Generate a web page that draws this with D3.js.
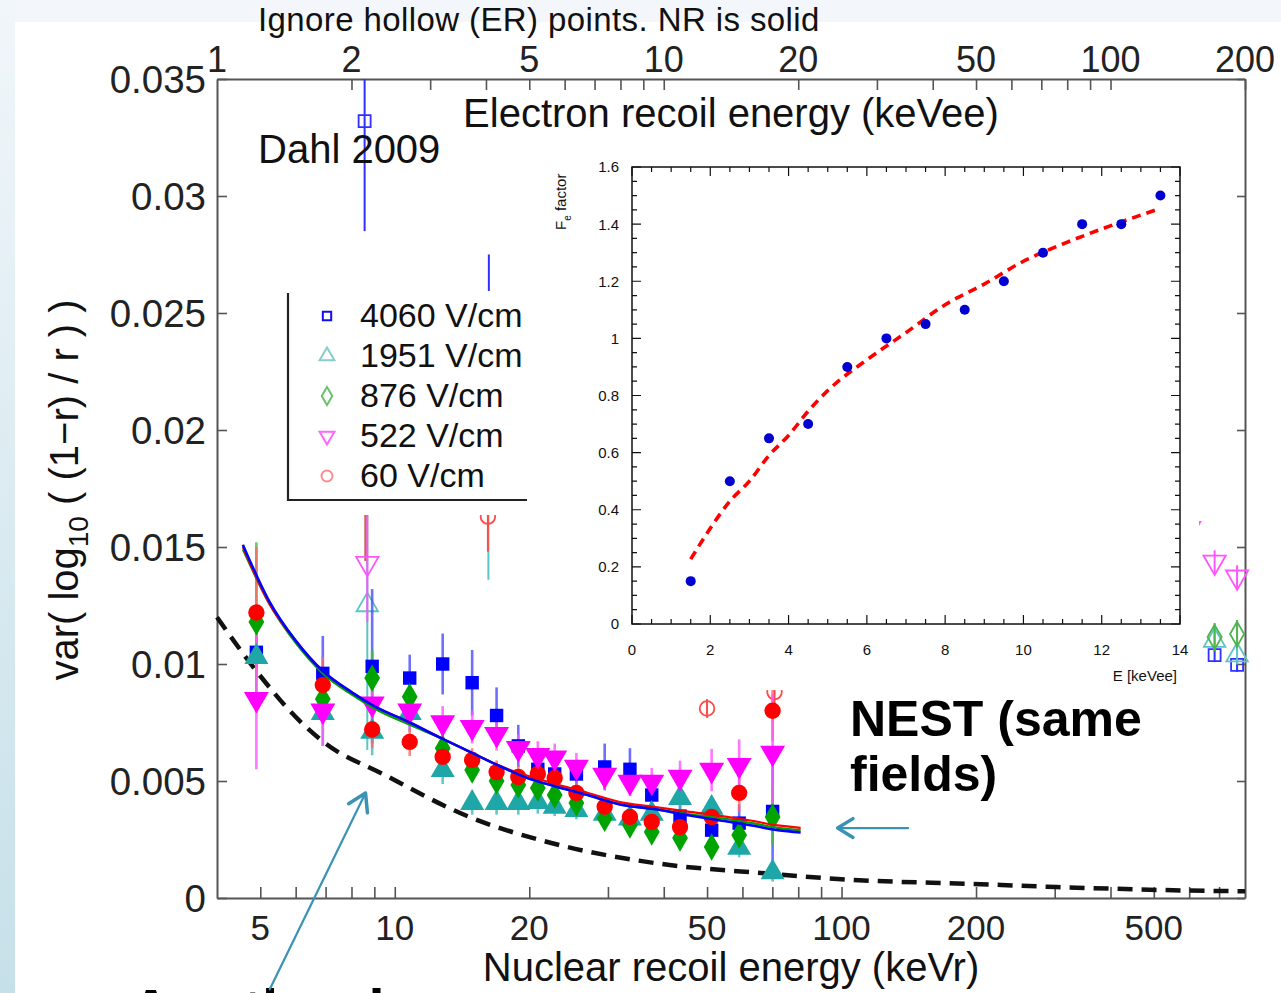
<!DOCTYPE html>
<html>
<head>
<meta charset="utf-8">
<script src="https://cdn.jsdelivr.net/npm/d3@7"></script>
<style>
body { margin: 0; background: #fff; }
svg { display: block; }
text { font-family: "Liberation Sans", Arial, sans-serif; }
</style>
</head>
<body>
<div id="chart"></div>
<script>
// ---------------------------------------------------------------------------
// data
// ---------------------------------------------------------------------------
// nuclear recoil columns (keVr)
var nrEnergy = [4.9, 6.9, 8.9, 10.8, 12.8, 14.9, 16.9, 18.9, 20.9, 22.8, 25.5, 29.5, 33.6, 37.6, 43.5, 51.2, 59.0, 70.1];

var nr4060 = [0.0105, 0.0096, 0.0099, 0.0094, 0.0100, 0.0092, 0.0078, 0.0065, 0.0055, 0.0053, 0.0053, 0.0056, 0.0055, 0.0044, 0.0035, 0.0029, 0.0032, 0.0037];
var err4060 = [0.0006, 0.0016, 0.0033, 0.0010, 0.0013, 0.0014, 0.0012, 0.0009, 0.0009, 0.0007, 0.0006, 0.0010, 0.0009, 0.0008, 0.0007, 0.0006, 0.0008, 0.0027];

var nr1951 = [0.0103, 0.0079, 0.0071, 0.0079, 0.00547, 0.00406, 0.00406, 0.00406, 0.0041, 0.0039, 0.00376, 0.0036, 0.0034, 0.0036, 0.00427, 0.00385, 0.00214, 0.0011];
var err1951 = [0.0004, 0.0014, 0.0010, 0.0008, 0.0006, 0.0005, 0.0005, 0.0005, 0.0005, 0.0004, 0.0004, 0.0004, 0.0004, 0.0004, 0.0005, 0.0005, 0.0004, 0.0004];

var nr876 = [0.0118, 0.0085, 0.0094, 0.0086, 0.0064, 0.00547, 0.0050, 0.00483, 0.0047, 0.0044, 0.00406, 0.0034, 0.00312, 0.00282, 0.00256, 0.00218, 0.00269, 0.00346];
var err876 = [0.0034, 0.0008, 0.0012, 0.0008, 0.0006, 0.0005, 0.0005, 0.0005, 0.0005, 0.0005, 0.0004, 0.0004, 0.0004, 0.0004, 0.0004, 0.0004, 0.0005, 0.0012];

var nr522 = [0.0085, 0.0080, 0.0083, 0.0080, 0.0075, 0.0073, 0.0070, 0.0064, 0.0061, 0.0060, 0.0056, 0.00526, 0.00496, 0.00496, 0.00517, 0.00547, 0.00568, 0.0062];
var err522 = [0.0030, 0.0015, 0.0011, 0.0008, 0.0007, 0.0007, 0.0007, 0.0006, 0.0006, 0.0006, 0.0006, 0.0006, 0.0006, 0.0006, 0.0007, 0.0009, 0.0011, 0.0025];

var nr60 = [0.0122, 0.0091, 0.0072, 0.00667, 0.00603, 0.0059, 0.00538, 0.00517, 0.0053, 0.00513, 0.00449, 0.0039, 0.00346, 0.00325, 0.00303, 0.00346, 0.00449, 0.0080];
var err60 = [0.0028, 0.0012, 0.0008, 0.0006, 0.0005, 0.0005, 0.0005, 0.0005, 0.0005, 0.0005, 0.0004, 0.0004, 0.0004, 0.0004, 0.0004, 0.0005, 0.0008, 0.0013];

// electron recoil (hollow) points, keVee
var erE4060 = [2.14, 4.06, 171, 192];
var er4060 = [0.0332, 0.0225, 0.01038, 0.00996];
var erErr4060 = [0.0047, 0.0050, 0.0003, 0.0003];
var erE1951 = [2.17, 4.05, 171, 192];
var er1951 = [0.01252, 0.0190, 0.0110, 0.01038];
var erErr1951 = [0.0062, 0.0054, 0.0004, 0.0004];
var erE876 = [2.15, 171, 192];
var er876 = [0.0180, 0.01115, 0.01128];
var erErr876 = [0.0036, 0.0006, 0.0006];
var erE522 = [2.17, 150, 171, 192];
var er522 = [0.0143, 0.0158, 0.01436, 0.01372];
var erErr522 = [0.0025, 0.0008, 0.0005, 0.0005];
var erE60 = [2.15, 4.04, 12.5, 17.7];
var er60 = [0.0185, 0.0163, 0.0081, 0.0088];
var erErr60 = [0.0041, 0.0015, 0.0004, 0.0008];

// NEST curves (keVr)
var nestEnergy = [4.57, 5.23, 6.0, 6.9, 8.0, 9.0, 10.8, 12.8, 14.9, 16.9, 20, 22.6, 27, 31.9, 38, 45, 54, 63, 72, 81];
var nestBlue  = [0.0151, 0.0127, 0.0110, 0.0097, 0.0088, 0.0082, 0.0075, 0.0068, 0.0062, 0.0057, 0.0051, 0.0048, 0.0044, 0.0040, 0.0038, 0.00355, 0.0033, 0.0031, 0.0029, 0.0028];
var nestRed   = [0.0150, 0.0126, 0.0110, 0.0097, 0.0088, 0.0082, 0.0075, 0.0068, 0.0062, 0.0057, 0.0052, 0.0049, 0.0045, 0.0041, 0.0039, 0.0037, 0.0035, 0.0033, 0.0031, 0.0030];
var nestGreen = [0.0149, 0.0126, 0.0109, 0.0096, 0.0087, 0.0081, 0.0074, 0.0068, 0.0062, 0.0057, 0.0051, 0.0048, 0.0044, 0.0040, 0.0038, 0.0036, 0.0034, 0.0032, 0.0030, 0.0029];

// black dashed curve
var dashEnergy = [4.0, 4.9, 6.1, 7.0, 9.4, 14.7, 22.4, 38, 70, 98, 197, 303, 700, 800];
var dashValue  = [0.0120, 0.0097, 0.0076, 0.0066, 0.0053, 0.00346, 0.00235, 0.0015, 0.00103, 0.00081, 0.0006, 0.00047, 0.0003, 0.00029];

// inset: Fe factor vs E
var insetE  = [1.5, 2.5, 3.5, 4.5, 5.5, 6.5, 7.5, 8.5, 9.5, 10.5, 11.5, 12.5, 13.5];
var insetFe = [0.15, 0.5, 0.65, 0.7, 0.9, 1.0, 1.05, 1.1, 1.2, 1.3, 1.4, 1.4, 1.5];
var fitE  = [1.5, 2, 2.5, 3, 3.5, 4, 4.5, 5, 6, 7, 8, 9, 10, 11, 12, 13.5];
var fitFe = [0.227, 0.335, 0.43, 0.50, 0.59, 0.66, 0.745, 0.817, 0.925, 1.02, 1.118, 1.19, 1.27, 1.33, 1.383, 1.455];

// ticks
var nrTicks = [5, 6, 7, 8, 9, 10, 20, 30, 40, 50, 60, 70, 80, 90, 100, 200, 300, 400, 500, 600, 700];
var nrTickLabels = [5, 10, 20, 50, 100, 200, 500];
var erTicks = [2, 3, 4, 5, 6, 7, 8, 9, 10, 20, 30, 40, 50, 60, 70, 80, 90, 100, 200];
var erTickLabels = [1, 2, 5, 10, 20, 50, 100, 200];
var yTicks = [0, 0.005, 0.01, 0.015, 0.02, 0.025, 0.03, 0.035];
var yTickLabels = ["0", "0.005", "0.01", "0.015", "0.02", "0.025", "0.03", "0.035"];
var insetXTicks = [0, 2, 4, 6, 8, 10, 12, 14];
var insetYTicks = [0, 0.2, 0.4, 0.6, 0.8, 1, 1.2, 1.4, 1.6];

var legendLabels = ["4060 V/cm", "1951 V/cm", "876 V/cm", "522 V/cm", "60 V/cm"];

// ---------------------------------------------------------------------------
var W = 1281, H = 993;
var plot = {left: 217, right: 1245, top: 79, bottom: 898};
var axisColor = "#555";

var svg = d3.select("#chart").append("svg")
    .attr("width", W)
    .attr("height", H);

// slide background
var defs = svg.append("defs");
var grad = defs.append("linearGradient").attr("id", "edge")
    .attr("x1", 0).attr("y1", 0).attr("x2", 0).attr("y2", 1);
grad.append("stop").attr("offset", "0%").attr("stop-color", "#f1f6fa");
grad.append("stop").attr("offset", "100%").attr("stop-color", "#c6e0e9");
svg.append("rect").attr("width", W).attr("height", H).attr("fill", "#f3f7fb");
svg.append("rect").attr("x", 0).attr("y", 0).attr("width", 15).attr("height", H).attr("fill", "url(#edge)");
svg.append("rect").attr("x", 15).attr("y", 22).attr("width", W - 15).attr("height", H - 22).attr("fill", "#fff");

// scales
var xNR = d3.scaleLog().domain([4, 800]).range([plot.left, plot.right]);
var xER = d3.scaleLog().domain([1, 200]).range([plot.left, plot.right]);
var y = d3.scaleLinear().domain([0, 0.035]).range([plot.bottom, plot.top]);

function styleAxis(g) {
    g.select(".domain").attr("stroke", axisColor).attr("stroke-width", 2);
    g.selectAll(".tick line").attr("stroke", axisColor).attr("stroke-width", 1.6);
    g.selectAll(".tick text").remove();
}

// main axes
svg.append("g").attr("transform", "translate(0," + plot.bottom + ")")
    .call(d3.axisBottom(xNR).tickValues(nrTicks).tickSize(-11).tickSizeOuter(0))
    .call(styleAxis);
svg.append("g").attr("transform", "translate(0," + plot.top + ")")
    .call(d3.axisTop(xER).tickValues(erTicks).tickSize(-11).tickSizeOuter(0))
    .call(styleAxis);
svg.append("g").attr("transform", "translate(" + plot.left + ",0)")
    .call(d3.axisLeft(y).tickValues(yTicks).tickSize(-10).tickSizeOuter(0))
    .call(styleAxis);
svg.append("g").attr("transform", "translate(" + plot.right + ",0)")
    .call(d3.axisRight(y).tickValues(yTicks).tickSize(-8).tickSizeOuter(0))
    .call(styleAxis);

// tick labels
svg.append("g").selectAll("text").data(nrTickLabels).join("text")
    .attr("x", d => xNR(d)).attr("y", 940)
    .attr("text-anchor", "middle").attr("font-size", 35).attr("fill", "#222")
    .text(d => d);
svg.append("g").selectAll("text").data(erTickLabels).join("text")
    .attr("x", d => xER(d)).attr("y", 72)
    .attr("text-anchor", "middle").attr("font-size", 36).attr("fill", "#222")
    .text(d => d);
svg.append("g").selectAll("text").data(yTicks).join("text")
    .attr("x", 206).attr("y", d => y(d)).attr("dy", "0.36em")
    .attr("text-anchor", "end").attr("font-size", 38.5).attr("fill", "#222")
    .text((d, i) => yTickLabels[i]);

// axis titles
svg.append("text").attr("x", 731).attr("y", 981).attr("text-anchor", "middle")
    .attr("font-size", 40).attr("fill", "#111").text("Nuclear recoil energy (keVr)");
svg.append("text").attr("x", 731).attr("y", 127).attr("text-anchor", "middle")
    .attr("font-size", 40).attr("fill", "#111").text("Electron recoil energy (keVee)");
var yl = svg.append("text").attr("transform", "translate(78,490) rotate(-90)")
    .attr("text-anchor", "middle").attr("font-size", 40).attr("fill", "#111");
yl.append("tspan").text("var( log");
yl.append("tspan").attr("font-size", 28).attr("dy", 10).text("10");
yl.append("tspan").attr("dy", -10).text(" ( (1\u2212r) / r ) )");

// ---------------------------------------------------------------------------
// data layers
// ---------------------------------------------------------------------------
var series = [
    {vals: nr4060, err: err4060, erE: erE4060, er: er4060, erErr: erErr4060, sym: d3.symbolSquare, size: 180, rot: 0,
     fill: "#0000ff", bar: "#4b4bff", hollow: "#3030ff", legend: "#1010ee"},
    {vals: nr1951, err: err1951, erE: erE1951, er: er1951, erErr: erErr1951, sym: d3.symbolTriangle, size: 250, rot: 0,
     fill: "#1fa7a7", bar: "#3cbcbc", hollow: "#5cc4c4", legend: "#88cccc"},
    {vals: nr876, err: err876, erE: erE876, er: er876, erErr: erErr876, sym: d3.symbolDiamond, size: 215, rot: 0,
     fill: "#00a400", bar: "#3cc03c", hollow: "#4cb44c", legend: "#6cc06c"},
    {vals: nr60, err: err60, erE: erE60, er: er60, erErr: erErr60, sym: d3.symbolCircle, size: 210, rot: 0,
     fill: "#ff0000", bar: "#ff6666", hollow: "#ff4a4a", legend: "#ff8c8c"},
    {vals: nr522, err: err522, erE: erE522, er: er522, erErr: erErr522, sym: d3.symbolTriangle, size: 270, rot: 180,
     fill: "#ff00ff", bar: "#ff55ff", hollow: "#ff55ff", legend: "#ff66ff"}
];

// dashed black curve
svg.append("path")
    .datum(dashEnergy.map((e, i) => [e, dashValue[i]]))
    .attr("fill", "none").attr("stroke", "#111").attr("stroke-width", 4.5)
    .attr("stroke-dasharray", "15,9")
    .attr("d", d3.line().curve(d3.curveMonotoneX).x(d => xNR(d[0])).y(d => y(d[1])));

// hollow ER points (top axis)
var erLayer = svg.append("g");
series.forEach(function(s) {
    var pts = s.erE.map((e, i) => ({e: e, v: s.er[i], err: s.erErr[i]}));
    erLayer.append("g").selectAll("line").data(pts).join("line")
        .attr("x1", d => xER(d.e)).attr("x2", d => xER(d.e))
        .attr("y1", d => Math.max(plot.top, y(d.v + d.err))).attr("y2", d => y(d.v - d.err))
        .attr("stroke", s.hollow).attr("stroke-width", 2);
    erLayer.append("g").selectAll("path").data(pts).join("path")
        .attr("transform", d => "translate(" + xER(d.e) + "," + y(d.v) + ") rotate(" + s.rot + ")")
        .attr("d", d3.symbol().type(s.sym).size(s.size * 0.8))
        .attr("fill", "none").attr("stroke", s.hollow).attr("stroke-width", 1.8);
});

// solid NR points with error bars
var nrLayer = svg.append("g");
series.forEach(function(s) {
    var pts = nrEnergy.map((e, i) => ({e: e, v: s.vals[i], err: s.err[i]}));
    nrLayer.append("g").selectAll("line").data(pts).join("line")
        .attr("x1", d => xNR(d.e)).attr("x2", d => xNR(d.e))
        .attr("y1", d => y(d.v + d.err)).attr("y2", d => y(d.v - d.err))
        .attr("stroke", s.bar).attr("stroke-width", 2.6).attr("stroke-opacity", 0.8);
});
series.forEach(function(s) {
    var pts = nrEnergy.map((e, i) => ({e: e, v: s.vals[i]}));
    nrLayer.append("g").selectAll("path").data(pts).join("path")
        .attr("transform", d => "translate(" + xNR(d.e) + "," + y(d.v) + ") rotate(" + s.rot + ")")
        .attr("d", d3.symbol().type(s.sym).size(s.size))
        .attr("fill", s.fill);
});

// NEST curves
var nestLine = d3.line().curve(d3.curveMonotoneX).x(d => xNR(d[0])).y(d => y(d[1]));
[[nestGreen, "#00a000", 2.2], [nestRed, "#ff0000", 2.2], [nestBlue, "#0000ff", 2.6]].forEach(function(c) {
    svg.append("path")
        .datum(nestEnergy.map((e, i) => [e, c[0][i]]))
        .attr("fill", "none").attr("stroke", c[1]).attr("stroke-width", c[2])
        .attr("d", nestLine);
});

// pasted white panels (legend and inset)
svg.append("rect").attr("x", 282).attr("y", 291).attr("width", 245).attr("height", 224).attr("fill", "#fff");
svg.append("rect").attr("x", 527).attr("y", 150).attr("width", 672).attr("height", 540).attr("fill", "#fff");

// legend
var leg = svg.append("g");
leg.append("path").attr("d", "M288,293V500H527")
    .attr("fill", "none").attr("stroke", "#222").attr("stroke-width", 2.2);
var legendOrder = [0, 1, 2, 4, 3];
legendOrder.forEach(function(si, row) {
    var s = series[si];
    var cy = 316 + row * 40;
    leg.append("path")
        .attr("transform", "translate(327," + cy + ") rotate(" + s.rot + ")")
        .attr("d", d3.symbol().type(s.sym).size(s.sym === d3.symbolSquare ? 70 : 95))
        .attr("fill", "none").attr("stroke", s.legend).attr("stroke-width", 2);
    leg.append("text").attr("x", 360).attr("y", cy + 11)
        .attr("font-size", 34).attr("fill", "#111").text(legendLabels[row]);
});

// ---------------------------------------------------------------------------
// inset
// ---------------------------------------------------------------------------
var xIn = d3.scaleLinear().domain([0, 14]).range([632, 1180]);
var yIn = d3.scaleLinear().domain([0, 1.6]).range([624, 167]);
var inset = svg.append("g");

inset.append("rect").attr("x", 632).attr("y", 167).attr("width", 548).attr("height", 457)
    .attr("fill", "none").attr("stroke", "#111").attr("stroke-width", 1.5);

var xMinor = d3.range(0, 14.01, 0.5), yMinor = d3.range(0, 1.601, 0.05);
function tickLen(v, step) { return Math.abs(v / step - Math.round(v / step)) < 1e-6 ? 9 : 5; }
inset.append("g").selectAll("path").data(xMinor).join("path")
    .attr("d", d => {
        var l = tickLen(d, 2), x = xIn(d);
        return "M" + x + ",624v" + (-l) + "M" + x + ",167v" + l;
    })
    .attr("stroke", "#111").attr("stroke-width", 1.2);
inset.append("g").selectAll("path").data(yMinor).join("path")
    .attr("d", d => {
        var l = tickLen(d, 0.2), yy = yIn(d);
        return "M632," + yy + "h" + l + "M1180," + yy + "h" + (-l);
    })
    .attr("stroke", "#111").attr("stroke-width", 1.2);

inset.append("g").selectAll("text").data(insetXTicks).join("text")
    .attr("x", d => xIn(d)).attr("y", 655).attr("text-anchor", "middle")
    .attr("font-size", 15).attr("fill", "#111").text(d => d);
inset.append("g").selectAll("text").data(insetYTicks).join("text")
    .attr("x", 619).attr("y", d => yIn(d)).attr("dy", "0.36em").attr("text-anchor", "end")
    .attr("font-size", 15).attr("fill", "#111").text(d => d3.format("~g")(d));
inset.append("text").attr("x", 1177).attr("y", 681).attr("text-anchor", "end")
    .attr("font-size", 15).attr("fill", "#111").text("E [keVee]");
var fl = inset.append("text").attr("transform", "translate(566,230) rotate(-90)")
    .attr("font-size", 15).attr("fill", "#111");
fl.append("tspan").text("F");
fl.append("tspan").attr("font-size", 10).attr("dy", 5).text("e");
fl.append("tspan").attr("dy", -5).text(" factor");

inset.append("path")
    .datum(fitE.map((e, i) => [e, fitFe[i]]))
    .attr("fill", "none").attr("stroke", "#ff0000").attr("stroke-width", 3.6)
    .attr("stroke-dasharray", "9,6")
    .attr("d", d3.line().curve(d3.curveMonotoneX).x(d => xIn(d[0])).y(d => yIn(d[1])));
inset.append("g").selectAll("circle").data(insetE).join("circle")
    .attr("cx", d => xIn(d)).attr("cy", (d, i) => yIn(insetFe[i])).attr("r", 5)
    .attr("fill", "#0000d0");

// ---------------------------------------------------------------------------
// annotations
// ---------------------------------------------------------------------------
var slideFont = "'Open Sans', 'Noto Sans', sans-serif";
svg.append("text").attr("x", 258).attr("y", 31).attr("font-family", slideFont)
    .attr("font-size", 33).attr("letter-spacing", 0.4).attr("fill", "#111")
    .text("Ignore hollow (ER) points. NR is solid");
svg.append("text").attr("x", 258).attr("y", 163).attr("font-family", slideFont)
    .attr("font-size", 40).attr("fill", "#111").text("Dahl 2009");

var boldFont = "Lato, 'Open Sans', sans-serif";
svg.append("text").attr("x", 850).attr("y", 736).attr("font-family", boldFont)
    .attr("font-weight", 700).attr("font-size", 50).attr("fill", "#000").text("NEST (same");
svg.append("text").attr("x", 850).attr("y", 791).attr("font-family", boldFont)
    .attr("font-weight", 700).attr("font-size", 50).attr("fill", "#000").text("fields)");
// caption running off the bottom of the slide (only its top shows)
svg.append("text").attr("x", 130).attr("y", 1030).attr("font-family", boldFont)
    .attr("font-weight", 700).attr("font-size", 58).attr("fill", "#000").text("Another base");

// teal arrows
var teal = "#3a92b4";
function arrow(x1, y1, x2, y2, head) {
    var a = Math.atan2(y2 - y1, x2 - x1);
    var g = svg.append("g").attr("stroke", teal).attr("fill", "none").attr("stroke-linecap", "round");
    g.append("line").attr("x1", x1).attr("y1", y1).attr("x2", x2).attr("y2", y2).attr("stroke-width", 2.2);
    var p1 = [x2 - head * Math.cos(a - 0.55), y2 - head * Math.sin(a - 0.55)];
    var p2 = [x2 - head * Math.cos(a + 0.55), y2 - head * Math.sin(a + 0.55)];
    g.append("path").attr("d", "M" + p1 + "L" + x2 + "," + y2 + "L" + p2)
        .attr("stroke-width", 3.5).attr("stroke-linejoin", "round");
}
arrow(xNR(5.25), y(-0.0039), xNR(8.6), y(0.00449), 20);
arrow(xNR(141), y(0.00299), xNR(98), y(0.00299), 18);
</script>
</body>
</html>
